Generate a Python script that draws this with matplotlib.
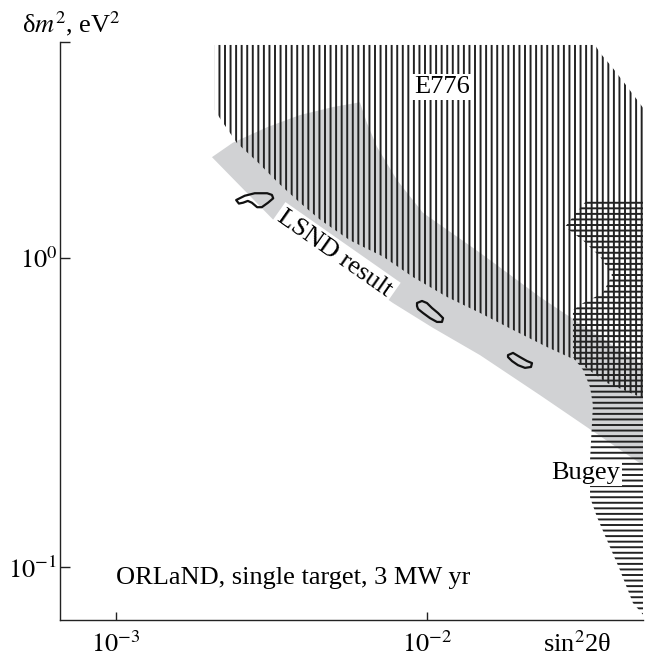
import numpy as np
import matplotlib
matplotlib.use("Agg")
from matplotlib import pyplot as plt
from matplotlib.patches import Polygon

plt.rcParams["font.family"] = ["Liberation Serif", "DejaVu Serif"]
plt.rcParams["mathtext.fontset"] = "stix"
plt.rcParams["hatch.linewidth"] = 1.4

# region outlines as (sin^2 2theta, dm^2 in eV^2)
e776_s2t = [2.085e-3, 2.085e-3, 2.16e-3, 2.45e-3, 2.85e-3, 3.33e-3, 3.91e-3, 4.54e-3,
            5.67e-3, 7.24e-3, 9.03e-3, 0.01162, 0.01484, 0.01895, 0.02437, 0.02998,
            0.0380, 0.04853, 0.0504, 0.0504, 0.04571, 0.04246, 0.03943, 0.0361, 0.03476]
e776_dm2 = [4.89, 3.01, 2.84, 2.36, 2.05, 1.75, 1.51, 1.33,
            1.14, 1.01, 0.868, 0.748, 0.664, 0.585, 0.515, 0.468,
            0.394, 0.355, 0.35, 3.0, 3.42, 3.77, 4.15, 4.61, 4.89]

lsnd_s2t = [2.04e-3, 2.38e-3, 3.07e-3, 3.91e-3, 5.00e-3, 6.10e-3, 6.43e-3, 6.92e-3,
            8.02e-3, 9.73e-3, 0.01484, 0.01895, 0.02313, 0.0504,
            0.0504, 0.02313, 0.01484, 0.01048, 7.79e-3, 3.21e-3]
lsnd_dm2 = [2.12, 2.36, 2.65, 2.90, 3.08, 3.19, 2.73, 2.29,
            1.79, 1.40, 1.04, 0.868, 0.748, 0.444,
            0.211, 0.360, 0.485, 0.594, 0.715, 1.33]

bugey_s2t = [0.03277, 0.02953, 0.02784, 0.03183, 0.0361, 0.03943, 0.03688, 0.03183,
             0.02953, 0.02953, 0.03183, 0.03352, 0.03425, 0.03352, 0.03352, 0.0353,
             0.03885, 0.04183, 0.04605, 0.0504, 0.0504]
bugey_dm2 = [1.54, 1.36, 1.26, 1.14, 1.01, 0.881, 0.770, 0.715,
             0.679, 0.478, 0.434, 0.382, 0.334, 0.222, 0.168, 0.145,
             0.116, 0.0978, 0.0765, 0.0689, 1.54]

# ORLaND sensitivity islands
isl1_s2t = [2.44e-3, 2.60e-3, 2.80e-3, 3.07e-3, 3.18e-3, 3.21e-3, 3.09e-3, 2.95e-3,
            2.85e-3, 2.74e-3, 2.66e-3, 2.57e-3, 2.49e-3]
isl1_dm2 = [1.54, 1.59, 1.62, 1.62, 1.60, 1.56, 1.51, 1.46, 1.46, 1.51, 1.53, 1.51, 1.50]
isl2_s2t = [9.31e-3, 9.66e-3, 0.01002, 0.01040, 0.01087, 0.01129, 0.01120, 0.01079,
            0.01025, 9.73e-3, 9.38e-3, 9.31e-3]
isl2_dm2 = [0.715, 0.726, 0.715, 0.689, 0.664, 0.639, 0.621, 0.621, 0.639, 0.664, 0.684, 0.699]
isl3_s2t = [0.01826, 0.01895, 0.01995, 0.02102, 0.02181, 0.02165, 0.02071, 0.01966,
            0.01881, 0.01826]
isl3_dm2 = [0.485, 0.493, 0.478, 0.464, 0.457, 0.444, 0.441, 0.450, 0.464, 0.478]

xticks = [1e-3, 1e-2]
xticklabels = [r"$10^{-3}$", r"$10^{-2}$"]
yticks = [1e-1, 1.0, 5.0]
yticklabels = [r"$10^{-1}$", r"$10^{0}$", ""]

FS = 19
INK = "#222222"

fig = plt.figure(figsize=(6.49, 6.59), dpi=100)
ax = fig.add_axes([0.0924, 0.0592, 0.8983, 0.8771])
ax.set_xscale("log"); ax.set_yscale("log")
ax.set_xlim(6.62e-4, 0.0496); ax.set_ylim(0.0674, 5.0)

ax.add_patch(Polygon(np.column_stack([lsnd_s2t, lsnd_dm2]), closed=True,
                     fc="#d1d2d4", ec="none", lw=0, zorder=1))
ax.add_patch(Polygon(np.column_stack([e776_s2t, e776_dm2]), closed=True,
                     fill=False, ec=INK, lw=0, hatch="|||", zorder=2))
ax.add_patch(Polygon(np.column_stack([bugey_s2t, bugey_dm2]), closed=True,
                     fill=False, ec=INK, lw=0, hatch="---", zorder=2))
for xs, ys in [(isl1_s2t, isl1_dm2), (isl2_s2t, isl2_dm2), (isl3_s2t, isl3_dm2)]:
    ax.add_patch(Polygon(np.column_stack([xs, ys]), closed=True, fill=False,
                         ec="#111111", lw=1.6, joinstyle="round", zorder=3))

box = dict(boxstyle="square,pad=0.08", fc="white", ec="none")
ax.text(0.0112, 3.58, "E776", ha="center", va="center", fontsize=FS, bbox=box, zorder=5)
ax.text(5.07e-3, 1.03, "LSND result", rotation=-35, rotation_mode="anchor",
        ha="center", va="center", fontsize=FS, bbox=dict(boxstyle="square,pad=0.12", fc="white", ec="none"), zorder=5)
ax.text(0.0418, 0.201, "Bugey", ha="right", va="center", fontsize=FS, bbox=box, zorder=5)
ax.text(1.0e-3, 0.092, "ORLaND, single target, 3 MW yr", ha="left", va="center", fontsize=FS, zorder=5)

for side in ["top", "right"]:
    ax.spines[side].set_visible(False)
for side in ["left", "bottom"]:
    ax.spines[side].set_color(INK); ax.spines[side].set_linewidth(1.0)

ax.set_xticks(xticks); ax.set_xticklabels(xticklabels)
ax.set_yticks(yticks); ax.set_yticklabels(yticklabels)
ax.minorticks_off()
ax.tick_params(direction="in", color=INK, width=1.0, labelsize=FS)
ax.tick_params(axis="y", length=7.2, pad=2)
ax.tick_params(axis="x", length=5.8, pad=8)

fig.text(22 / 649, 1 - 32 / 659, "δ$m^2$, eV$^2$", fontsize=FS, ha="left", va="baseline")
fig.text(577 / 649, 1 - 652 / 659, "sin$^2$2θ", fontsize=FS, ha="center", va="baseline")

fig.savefig("out.png", dpi=100)
